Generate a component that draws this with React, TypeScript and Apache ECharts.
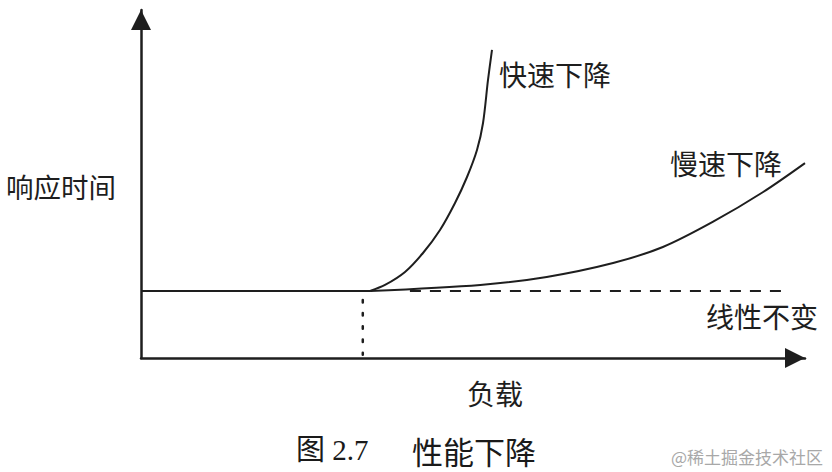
import React, { useEffect, useRef } from "react";
import * as echarts from "echarts";

// Load (x, 0-100) vs response time (y, 0-100)
const baseline: [number, number][] = [
  [0, 19.25],
  [34.5, 19.25],
];
const fastDecline: [number, number][] = [
  [34.5, 19.25],
  [36.75, 20.98],
  [39.76, 24.71],
  [42.47, 30.17],
  [45.03, 36.78],
  [47.29, 44.54],
  [49.1, 52.01],
  [50.6, 59.77],
  [51.51, 67.53],
  [52.26, 79.89],
  [52.86, 88.51],
];
const slowDecline: [number, number][] = [
  [34.5, 19.25],
  [51.1, 21.0],
  [61.1, 23.3],
  [71.1, 27.3],
  [78.6, 31.9],
  [86.1, 39.1],
  [93.7, 47.7],
  [100, 56.0],
];
const linearConstant: [number, number][] = [
  [40.5, 19.25],
  [97.3, 19.25],
];
const kneeMarker: [number, number][] = [
  [33.4, 16.7],
  [33.4, 0.9],
];

const yAxisName = "响应时间";
const xAxisName = "负载";
const fastLabel = "快速下降";
const slowLabel = "慢速下降";
const flatLabel = "线性不变";
const captionNumber = "图 2.7";
const captionTitle = "性能下降";
const watermark = "@稀土掘金技术社区";

const INK = "#1e1e1e";
const CJK = "'Noto Sans CJK SC', 'Liberation Serif', serif";
const SERIF = "'Liberation Serif', 'Noto Sans CJK SC', serif";

export default function App() {
  const ref = useRef<HTMLDivElement>(null);
  useEffect(() => {
    if (!ref.current) return;
    const chart = echarts.init(ref.current, undefined, { renderer: "svg" });
    const axisCommon = {
      type: "value" as const,
      min: 0,
      max: 100,
      splitLine: { show: false },
      axisTick: { show: false },
      axisLabel: { show: false },
      axisLine: {
        show: true,
        symbol: ["none", "triangle"],
        symbolSize: [20, 20],
        symbolOffset: [0, -10],
        lineStyle: { color: INK, width: 2.5 },
      },
    };
    const lineCommon = {
      type: "line" as const,
      showSymbol: false,
      symbol: "none",
      silent: true,
      clip: false,
    };
    const text = (
      t: string,
      x: number,
      y: number,
      size: number,
      color = INK,
      family = CJK
    ) => ({
      type: "text",
      x,
      y,
      style: {
        text: t,
        fill: color,
        fontSize: size,
        fontFamily: family,
        verticalAlign: "middle",
        align: "left",
      },
    });
    chart.setOption({
      animation: false,
      backgroundColor: "#ffffff",
      grid: { left: 141, right: 27, top: 10, bottom: 114 },
      xAxis: axisCommon,
      yAxis: axisCommon,
      series: [
        {
          ...lineCommon,
          data: baseline,
          lineStyle: { color: INK, width: 2 },
        },
        {
          ...lineCommon,
          data: fastDecline,
          smooth: 0.3,
          lineStyle: { color: INK, width: 2 },
        },
        {
          ...lineCommon,
          data: slowDecline,
          smooth: 0.3,
          lineStyle: { color: INK, width: 2 },
        },
        {
          ...lineCommon,
          data: linearConstant,
          lineStyle: { color: INK, width: 2, type: [11, 9] },
        },
        {
          ...lineCommon,
          data: kneeMarker,
          lineStyle: { color: INK, width: 2.5, type: [2.5, 10.7], cap: "round" },
        },
      ],
      graphic: [
        text(fastLabel, 499, 74, 28),
        text(slowLabel, 670, 163, 28),
        text(yAxisName, 6, 186, 27.5),
        text(flatLabel, 706, 316, 28),
        text(xAxisName, 467, 393, 28),
        text(captionNumber, 296, 450, 29, "#1a1a1a", SERIF),
        text(captionTitle, 412, 450, 31, "#1a1a1a", CJK),
        text(watermark, 671, 456, 17, "#a8a8a8"),
      ],
    });
    return () => chart.dispose();
  }, []);
  return (
    <div
      ref={ref}
      style={{ position: "fixed", left: 0, top: 0, width: 832, height: 472 }}
    />
  );
}
